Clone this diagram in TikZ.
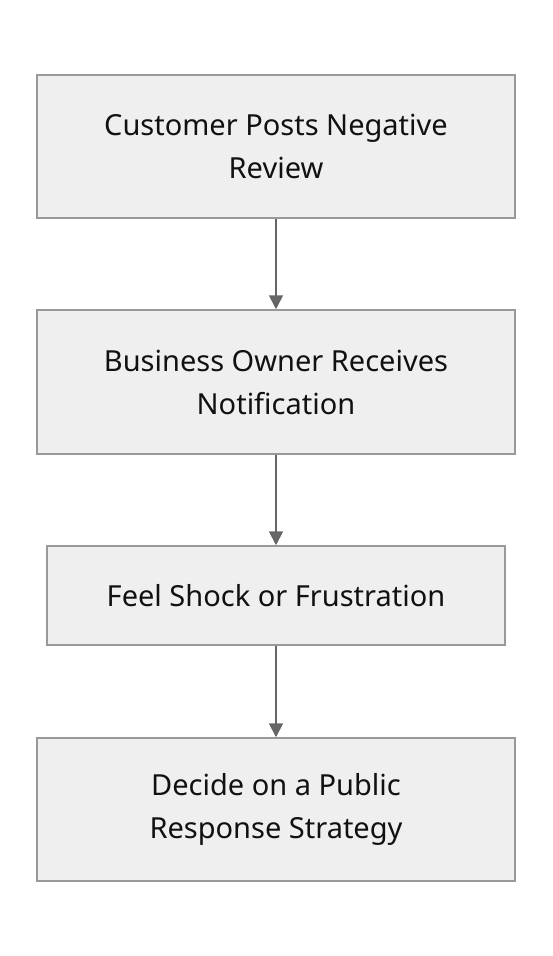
\documentclass[tikz,border=0pt]{standalone}
\usepackage{fontspec}
\setmainfont{Noto Sans}
\usetikzlibrary{arrows.meta}
\definecolor{boxfill}{HTML}{EFEFEF}
\definecolor{boxline}{HTML}{999999}
\definecolor{arrowc}{HTML}{666666}
\definecolor{textc}{HTML}{111111}
\tikzset{
  stepbox/.style={draw=boxline, fill=boxfill, line width=1.5pt, align=center, inner sep=0pt,
    text=textc, font=\fontsize{29}{43}\selectfont},
  flow/.style={draw=arrowc, line width=1.8pt, -{Triangle[length=14pt,width=14pt]}}
}
\begin{document}
\begin{tikzpicture}[x=1pt,y=-1pt]
\useasboundingbox (0,0) rectangle (552,956);
\node[stepbox, minimum width=478pt, minimum height=143pt] (a) at (276,146.5) {Customer Posts Negative\\Review};
\node[stepbox, minimum width=478pt, minimum height=144pt] (b) at (276,382) {Business Owner Receives\\Notification};
\node[stepbox, minimum width=458pt, minimum height=99pt] (c) at (276,595.5) {Feel Shock or Frustration};
\node[stepbox, minimum width=478pt, minimum height=143pt] (d) at (276,809.5) {Decide on a Public\\Response Strategy};
\draw[flow] (a) -- (b);
\draw[flow] (b) -- (c);
\draw[flow] (c) -- (d);
\end{tikzpicture}
\end{document}
